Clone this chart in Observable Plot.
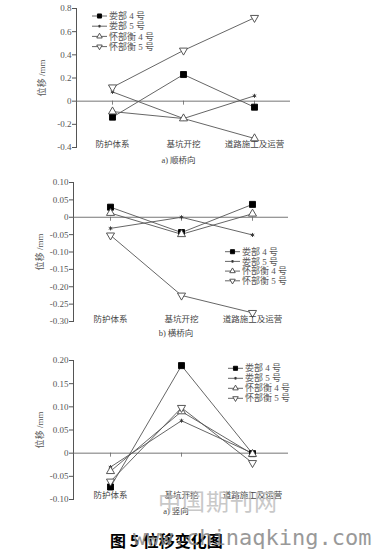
<!DOCTYPE html>
<html><head><meta charset="utf-8">
<script src="https://cdn.jsdelivr.net/npm/d3@7"></script>
<script src="https://cdn.jsdelivr.net/npm/@observablehq/plot@0.6"></script>
<style>
body{margin:0;background:#fff;}
#root{position:relative;width:385px;height:558px;overflow:hidden;font-family:"Liberation Serif","Noto Sans CJK SC",serif;}
.panel{position:absolute;left:0;}
.title{position:absolute;left:110px;top:528px;font:bold 16px "Noto Sans CJK SC";color:#000;white-space:nowrap;}
.wm1{position:absolute;left:133px;top:525px;font:22px "DejaVu Sans Mono",monospace;color:#888;opacity:0.85;white-space:nowrap;}
.wm2{position:absolute;left:158px;top:483px;font:23px "Noto Sans CJK SC";color:#bbb;opacity:0.8;letter-spacing:1px;white-space:nowrap;}
</style></head><body><div id="root"></div>
<script>
const stages = ["防护体系", "基坑开挖", "道路施工及运营"];
const seriesNames = ["娄部 4 号", "娄部 5 号", "怀部衡 4 号", "怀部衡 5 号"];
// a) 顺桥向
const alongS4 = [-0.138, 0.23, -0.052];
const alongS5 = [0.08, -0.15, 0.046];
const alongH4 = [-0.09, -0.15, -0.322];
const alongH5 = [0.12, 0.438, 0.72];
// b) 横桥向
const acrossS4 = [0.029, -0.044, 0.037];
const acrossS5 = [-0.032, 0, -0.051];
const acrossH4 = [0.012, -0.049, 0.01];
const acrossH5 = [-0.052, -0.225, -0.275];
// 竖向
const vertS4 = [-0.073, 0.189, -0.001];
const vertS5 = [-0.030, 0.070, 0];
const vertH4 = [-0.039, 0.090, -0.002];
const vertH5 = [-0.061, 0.098, -0.021];
const ticksA = [-0.4, -0.2, 0, 0.2, 0.4, 0.6, 0.8];
const ticksB = [-0.30, -0.25, -0.20, -0.15, -0.10, -0.05, 0, 0.05, 0.10];
const ticksC = [-0.10, -0.05, 0, 0.05, 0.10, 0.15, 0.20];
const captions = ["a) 顺桥向", "b) 横桥向", "a) 竖向"];
const yLabel = "位移 /mm";

const sqrt3 = Math.sqrt(3);
const triangleDown = {
  draw(context, size) {
    const y = -Math.sqrt(size / (sqrt3 * 3));
    context.moveTo(0, -y * 2);
    context.lineTo(-sqrt3 * y, y);
    context.lineTo(sqrt3 * y, y);
    context.closePath();
  }
};
const symbolStyles = [
  {symbol: "square", r: 3.4, fill: "#000", stroke: "#000"},
  {symbol: "asterisk", r: 1.9, fill: "none", stroke: "#333"},
  {symbol: "triangle", r: 3.0, fill: "#fff", stroke: "#444"},
  {symbol: triangleDown, r: 3.0, fill: "#fff", stroke: "#444"}
];
const d3Symbols = [d3.symbolSquare, d3.symbolAsterisk, d3.symbolTriangle, triangleDown];

const root = document.getElementById("root");

function panel(cfg) {
  const table = [];
  cfg.series.forEach((vals, i) => vals.forEach((v, j) => table.push({stage: stages[j], value: v, series: seriesNames[i], idx: i})));
  const fmt = v => v === 0 ? "0" : v.toFixed(cfg.digits);
  const marks = [
    Plot.frame({anchor: "left", stroke: "#555"}),
    Plot.ruleY([0], {stroke: "#666", strokeWidth: 0.9}),
    Plot.ruleX(stages, {x: d => d, y1: 0, y2: 0, insetBottom: -4, stroke: "#666", strokeWidth: 0.8}),
    Plot.axisY({ticks: cfg.ticks, tickFormat: fmt, tickSize: 4, tickPadding: 1, fontSize: 9, fill: "#555", stroke: "#555",
      label: yLabel, labelAnchor: "center", labelOffset: cfg.labelOffset, labelArrow: "none"}),
    Plot.line(table, {x: "stage", y: "value", z: "series", stroke: "#555", strokeWidth: 0.9}),
    ...symbolStyles.map((s, i) => Plot.dot(table.filter(d => d.idx === i), {x: "stage", y: "value", symbol: s.symbol, r: s.r, fill: s.fill, stroke: s.stroke, strokeWidth: 0.9})),
    Plot.text(stages, {x: d => d, frameAnchor: "bottom", dy: cfg.catDy, fontSize: 8.5, fill: "#444"}),
    Plot.text([cfg.caption], {frameAnchor: "bottom", dx: -5, dy: cfg.capDy, fontSize: 8.5, fill: "#444"})
  ];
  const chart = Plot.plot({
    width: 385, height: cfg.height,
    marginTop: cfg.mt, marginBottom: cfg.mb, marginLeft: cfg.ml, marginRight: cfg.mr,
    style: {fontFamily: '"Liberation Serif","Noto Sans CJK SC",serif', fontSize: "9px", color: "#555", background: "transparent"},
    x: {type: "point", domain: stages, padding: 0.5, axis: null},
    y: {domain: cfg.domain, axis: null},
    marks
  });
  chart.classList.add("panel");
  chart.style.top = cfg.top + "px";
  // legend
  const svg = d3.select(chart);
  const g = svg.append("g").attr("font-size", 9).attr("fill", "#555").attr("text-anchor", "start");
  seriesNames.forEach((name, i) => {
    const y = cfg.legend.y + i * cfg.legend.step;
    const x = cfg.legend.x;
    g.append("line").attr("x1", x).attr("x2", x + 15).attr("y1", y).attr("y2", y).attr("stroke", "#555").attr("stroke-width", 0.9);
    const s = symbolStyles[i];
    g.append("path").attr("transform", `translate(${x + 7.5},${y})`)
      .attr("d", d3.symbol(d3Symbols[i], Math.PI * (s.r * 0.68) ** 2)())
      .attr("fill", s.fill).attr("stroke", s.stroke).attr("stroke-width", 0.9);
    g.append("text").attr("x", x + 17).attr("y", y).attr("dy", "0.35em").attr("text-anchor", "start").text(name);
  });
  root.appendChild(chart);
}

panel({series: [alongS4, alongS5, alongH4, alongH5], ticks: ticksA, domain: [-0.4, 0.8], digits: 1,
  top: 0, height: 170, mt: 8, mb: 23, ml: 76, mr: 95, labelOffset: 38, catDy: -1, capDy: 15,
  caption: captions[0], legend: {x: 92, y: 16, step: 10.2}});
panel({series: [acrossS4, acrossS5, acrossH4, acrossH5], ticks: ticksB, domain: [-0.30, 0.10], digits: 2,
  top: 170, height: 170, mt: 12, mb: 19, ml: 73, mr: 97, labelOffset: 37, catDy: 0, capDy: 14,
  caption: captions[1], legend: {x: 225, y: 81.7, step: 9.7}});
panel({series: [vertS4, vertS5, vertH4, vertH5], ticks: ticksC, domain: [-0.10, 0.20], digits: 2,
  top: 340, height: 180, mt: 20, mb: 21, ml: 73, mr: 97, labelOffset: 37, catDy: -2, capDy: 14,
  caption: captions[2], legend: {x: 228, y: 28.3, step: 10}});

const wm2 = document.createElement("div"); wm2.className = "wm2"; wm2.textContent = "中国期刊网"; root.appendChild(wm2);
const title = document.createElement("div"); title.className = "title"; title.textContent = "图 5 位移变化图"; root.appendChild(title);
const wm1 = document.createElement("div"); wm1.className = "wm1"; wm1.textContent = "www.chinaqking.com"; root.appendChild(wm1);
</script></body></html>
